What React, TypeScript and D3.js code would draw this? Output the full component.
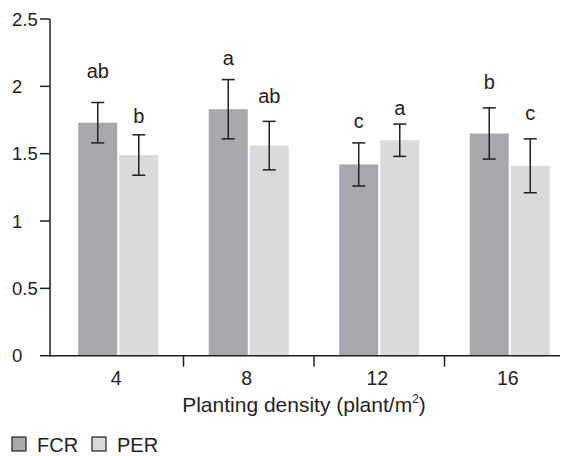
import React, { useEffect, useRef } from "react";
import * as d3 from "d3";

const categories = ["4", "8", "12", "16"];
const seriesNames = ["FCR", "PER"];
const fcrMean = [1.73, 1.83, 1.42, 1.65];
const fcrErr = [0.15, 0.22, 0.16, 0.19];
const perMean = [1.49, 1.56, 1.6, 1.41];
const perErr = [0.15, 0.18, 0.12, 0.2];
const fcrLetters = ["ab", "a", "c", "b"];
const perLetters = ["b", "ab", "a", "c"];
// heights (in y units) where the letters sit
const fcrLetterY = [2.06, 2.16, 1.69, 1.98];
const perLetterY = [1.73, 1.88, 1.79, 1.75];
const yTicks = [0, 0.5, 1, 1.5, 2, 2.5];

const W = 564;
const H = 456;
const FONT = "'Liberation Sans', Arial, sans-serif";
const INK = "#231f20";
const colors = { FCR: "#a7a8ab", PER: "#d9dadc" };

const App = () => {
  const svgRef = useRef<SVGSVGElement>(null);

  useEffect(() => {
    const svg = d3.select(svgRef.current);
    svg.selectAll("*").remove();

    const y = d3.scaleLinear().domain([0, 2.5]).range([355.7, 19]);
    const x0 = d3.scaleBand().domain(categories).range([53, 575]);
    const x1 = d3.scaleBand().domain(seriesNames).range([-40, 40]).paddingInner(0.05);

    const rows = categories.map((c, i) => ({
      cat: c,
      vals: [
        { s: "FCR", v: fcrMean[i], e: fcrErr[i], l: fcrLetters[i], ly: fcrLetterY[i] },
        { s: "PER", v: perMean[i], e: perErr[i], l: perLetters[i], ly: perLetterY[i] }
      ]
    }));

    const groups = svg
      .selectAll("g.grp")
      .data(rows)
      .enter()
      .append("g")
      .attr("class", "grp")
      .attr("transform", (d) => `translate(${x0(d.cat)! + x0.bandwidth() / 2},0)`);

    const items = groups
      .selectAll("g.item")
      .data((d) => d.vals)
      .enter()
      .append("g")
      .attr("class", "item");

    // bars
    items
      .append("rect")
      .attr("x", (d) => x1(d.s)!)
      .attr("y", (d) => y(d.v))
      .attr("width", x1.bandwidth())
      .attr("height", (d) => y(0) - y(d.v))
      .attr("fill", (d) => colors[d.s as "FCR" | "PER"]);

    // error bars
    const cx = (d: any) => x1(d.s)! + x1.bandwidth() / 2;
    items
      .append("line")
      .attr("x1", cx)
      .attr("x2", cx)
      .attr("y1", (d) => y(d.v + d.e))
      .attr("y2", (d) => y(d.v - d.e))
      .attr("stroke", INK)
      .attr("stroke-width", 1.5);
    [1, -1].forEach((sgn) => {
      items
        .append("line")
        .attr("x1", (d) => cx(d) - 6.5)
        .attr("x2", (d) => cx(d) + 6.5)
        .attr("y1", (d) => y(d.v + sgn * d.e))
        .attr("y2", (d) => y(d.v + sgn * d.e))
        .attr("stroke", INK)
        .attr("stroke-width", 1.5);
    });

    // significance letters
    items
      .append("text")
      .attr("x", cx)
      .attr("y", (d) => y(d.ly))
      .attr("text-anchor", "middle")
      .attr("font-family", FONT)
      .attr("font-size", 20)
      .attr("fill", INK)
      .text((d) => d.l);

    // y axis
    const yAxis = svg.append("g");
    yAxis
      .append("line")
      .attr("x1", 50)
      .attr("x2", 50)
      .attr("y1", y(2.5))
      .attr("y2", y(0) + 0.75)
      .attr("stroke", INK)
      .attr("stroke-width", 1.5);
    const yt = yAxis.selectAll("g.tick").data(yTicks).enter().append("g").attr("class", "tick");
    yt.append("line")
      .attr("x1", 40)
      .attr("x2", 50)
      .attr("y1", (d) => y(d))
      .attr("y2", (d) => y(d))
      .attr("stroke", INK)
      .attr("stroke-width", 1.5);
    yt.append("text")
      .attr("x", 12)
      .attr("y", (d) => y(d))
      .attr("dy", "0.36em")
      .attr("font-family", FONT)
      .attr("font-size", 18.5)
      .attr("fill", INK)
      .text((d) => String(d));

    // x axis
    const xAxis = svg.append("g");
    xAxis
      .append("line")
      .attr("x1", 50)
      .attr("x2", 560)
      .attr("y1", y(0))
      .attr("y2", y(0))
      .attr("stroke", INK)
      .attr("stroke-width", 1.5);
    xAxis
      .selectAll("line.sep")
      .data(categories.slice(1))
      .enter()
      .append("line")
      .attr("class", "sep")
      .attr("x1", (d) => x0(d)!)
      .attr("x2", (d) => x0(d)!)
      .attr("y1", y(0))
      .attr("y2", y(0) + 11)
      .attr("stroke", INK)
      .attr("stroke-width", 1.5);
    xAxis
      .selectAll("text.cat")
      .data(categories)
      .enter()
      .append("text")
      .attr("class", "cat")
      .attr("x", (d) => x0(d)! + x0.bandwidth() / 2 - 2)
      .attr("y", 385)
      .attr("text-anchor", "middle")
      .attr("font-family", FONT)
      .attr("font-size", 19.5)
      .attr("fill", INK)
      .text((d) => d);

    const title = xAxis
      .append("text")
      .attr("x", 304)
      .attr("y", 412)
      .attr("text-anchor", "middle")
      .attr("font-family", FONT)
      .attr("font-size", 21)
      .attr("fill", INK);
    title.append("tspan").text("Planting density (plant/m");
    title.append("tspan").attr("font-size", 12).attr("dy", -9).text("2");
    title.append("tspan").attr("dy", 9).text(")");

    // legend
    const leg = svg
      .selectAll("g.leg")
      .data(seriesNames)
      .enter()
      .append("g")
      .attr("class", "leg")
      .attr("transform", (d, i) => `translate(${12 + i * 80},437)`);
    leg
      .append("rect")
      .attr("width", 14)
      .attr("height", 14)
      .attr("fill", (d) => colors[d as "FCR" | "PER"])
      .attr("stroke", INK)
      .attr("stroke-width", 1.2);
    leg
      .append("text")
      .attr("x", 25)
      .attr("y", 14.5)
      .attr("font-family", FONT)
      .attr("font-size", 20)
      .attr("fill", INK)
      .text((d) => d);
  }, []);

  return (
    <svg
      ref={svgRef}
      width={W}
      height={H}
      style={{ position: "absolute", left: 0, top: 0, background: "#fff" }}
    ></svg>
  );
};

export default App;
